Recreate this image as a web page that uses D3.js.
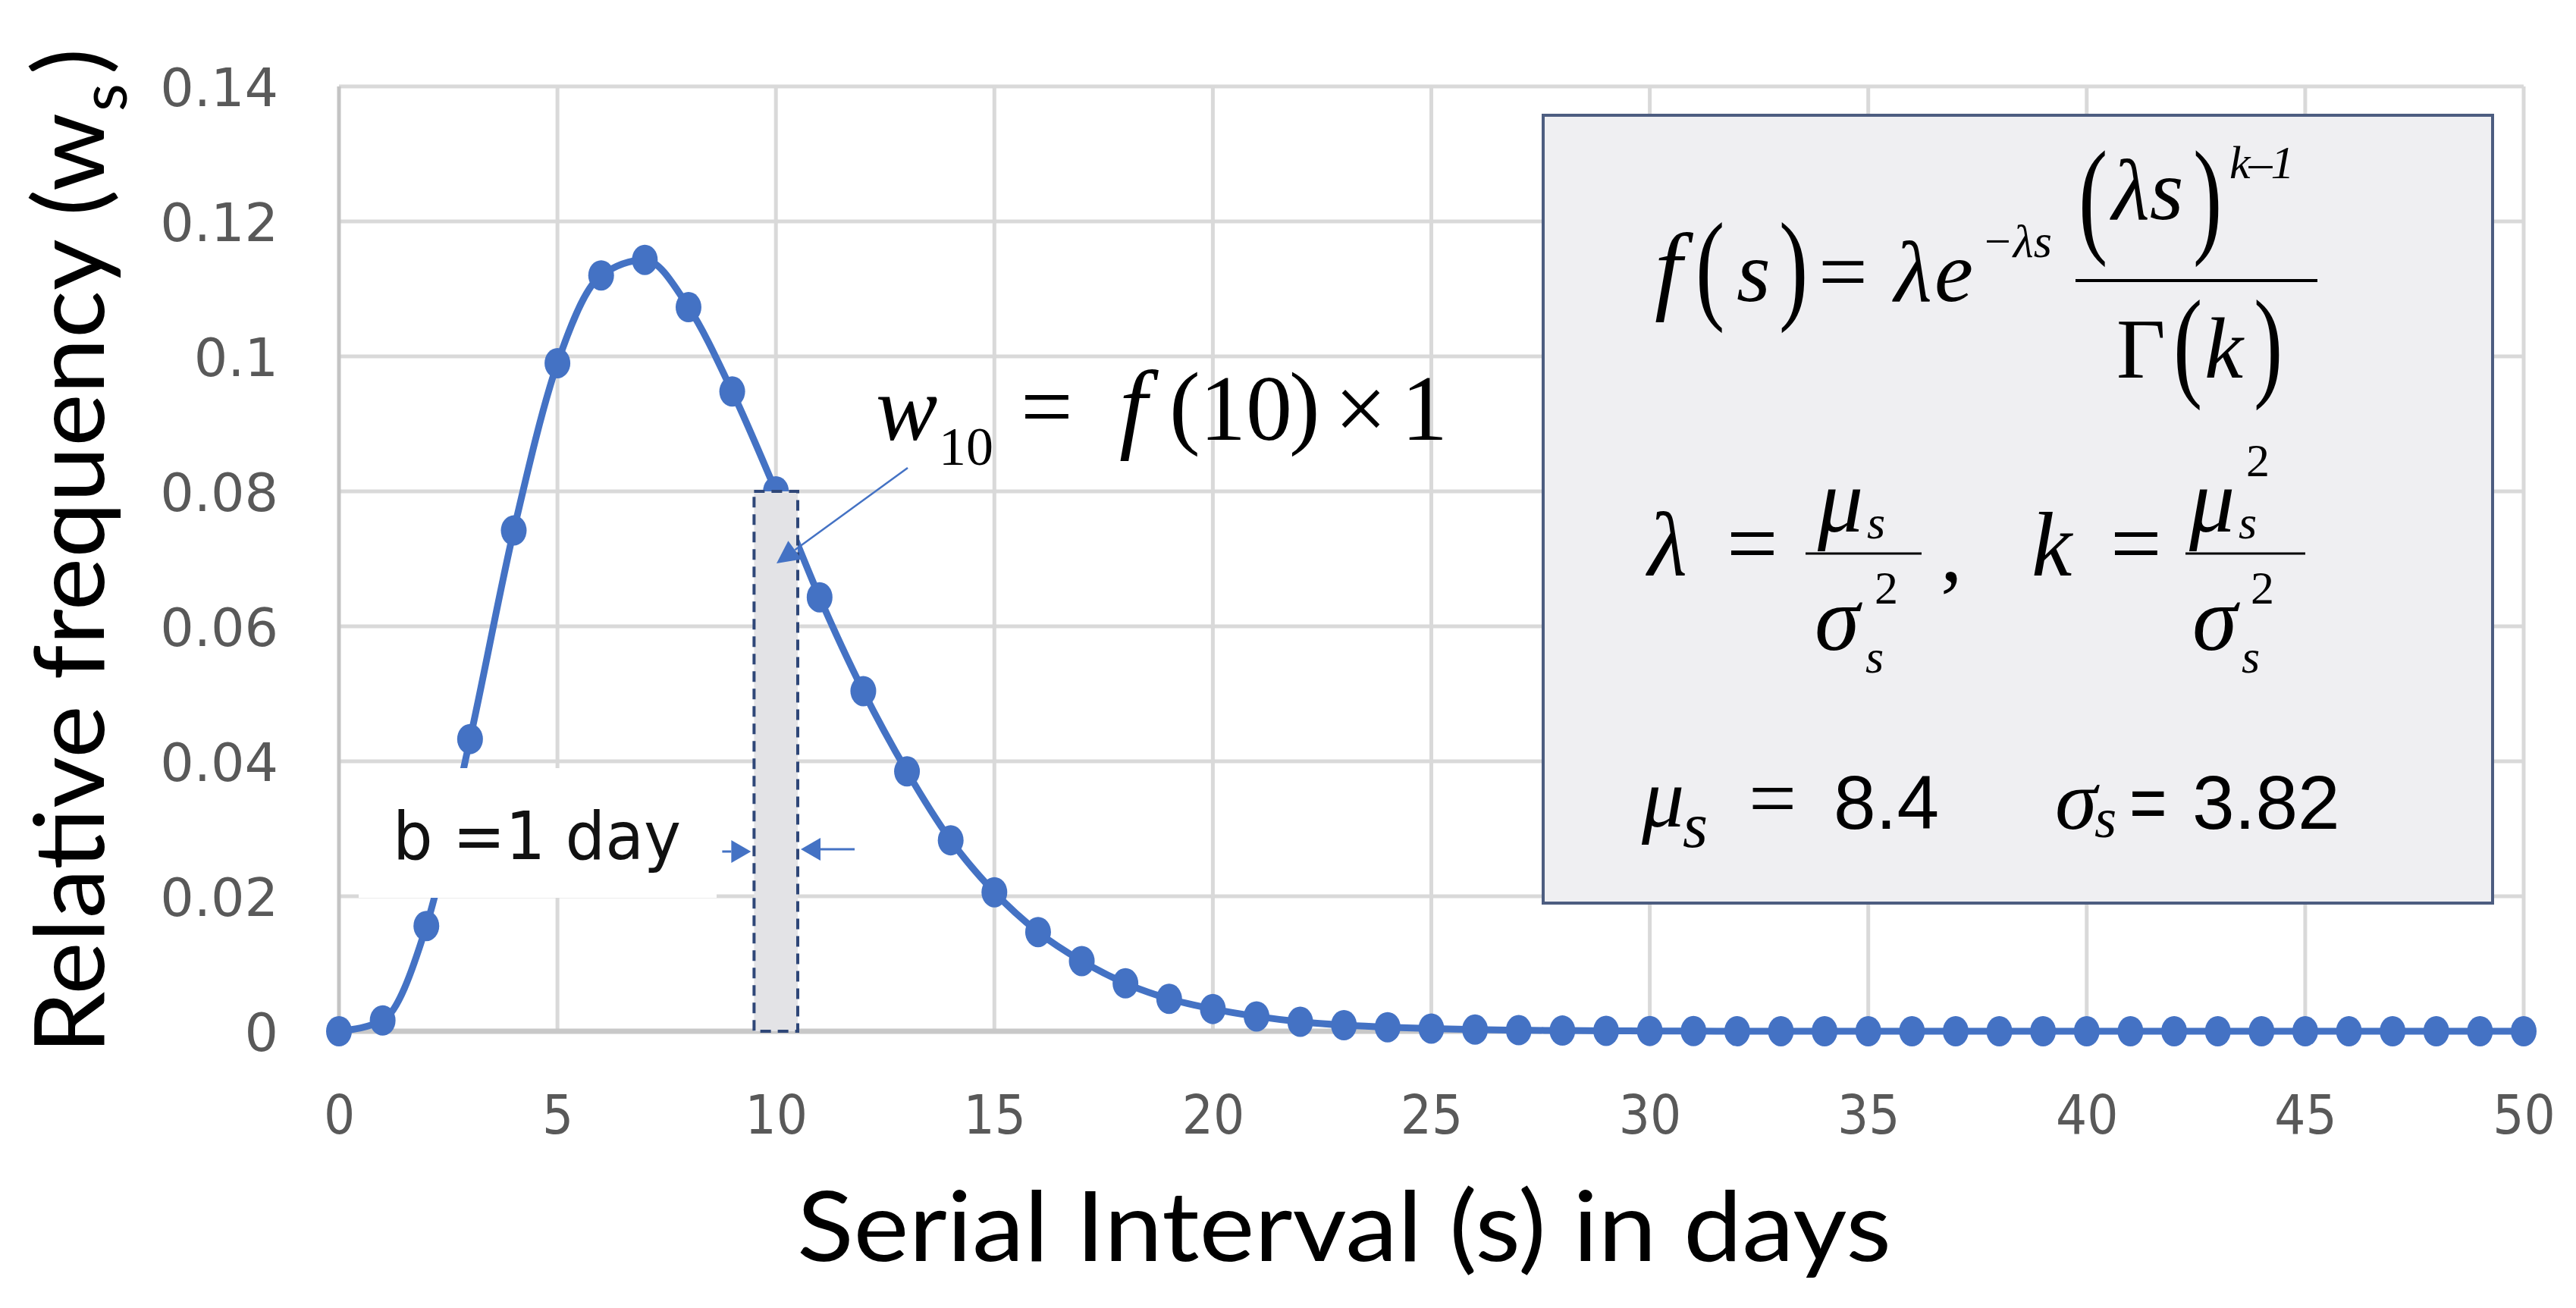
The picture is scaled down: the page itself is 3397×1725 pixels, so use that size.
<!DOCTYPE html>
<html><head><meta charset="utf-8">
<script src="https://cdn.jsdelivr.net/npm/d3@7"></script>
<style>html,body{margin:0;padding:0;background:#fff;}svg{display:block;}</style>
</head><body>
<script>
// ---------- data ----------
const days = [0,1,2,3,4,5,6,7,8,9,10,11,12,13,14,15,16,17,18,19,20,21,22,23,24,25,26,27,28,29,30,31,32,33,34,35,36,37,38,39,40,41,42,43,44,45,46,47,48,49,50];
const relFreq = [0,0.0016,0.0156,0.0433,0.0742,0.0990,0.1120,0.1143,0.1073,0.0948,0.0800,0.0643,0.0504,0.0385,0.0283,0.0206,0.0147,0.0104,0.0071,0.0048,0.0033,0.0022,0.0014,0.0009,0.0006,0.0004,0.00025,0.00016,0.0001,0.00006,0.00004,0.00002,0.00001,0.00001,0,0,0,0,0,0,0,0,0,0,0,0,0,0,0,0,0];
const xTicks = [0,5,10,15,20,25,30,35,40,45,50];
const yTicks = [0,0.02,0.04,0.06,0.08,0.1,0.12,0.14];
const yTickLabels = ["0","0.02","0.04","0.06","0.08","0.1","0.12","0.14"];
const highlightDay = 10, binWidth = 1, highlightValue = 0.08;

const W = 3397, H = 1725;
const svg = d3.select("body").append("svg").attr("width", W).attr("height", H);
const x = d3.scaleLinear().domain([0,50]).range([447,3328]);
const y = d3.scaleLinear().domain([0,0.14]).range([1360,114]);
const blue = "#4472C4";

// gridlines
const grid = svg.append("g");
grid.selectAll("line.h").data(yTicks.filter(d=>d>0)).enter().append("line")
  .attr("x1", x(0)).attr("x2", x(50)).attr("y1", d=>y(d)).attr("y2", d=>y(d))
  .attr("stroke", "#d9d9d9").attr("stroke-width", 5);
grid.selectAll("line.v").data(xTicks).enter().append("line")
  .attr("x1", d=>x(d)).attr("x2", d=>x(d)).attr("y1", y(0.14)).attr("y2", y(0))
  .attr("stroke", d=> d===0 ? "#c4c4c4" : "#d9d9d9").attr("stroke-width", 5);
grid.append("line").attr("x1", x(0)).attr("x2", x(50)).attr("y1", y(0)).attr("y2", y(0))
  .attr("stroke", "#c8c8c8").attr("stroke-width", 7);

// axes
const xAxis = svg.append("g").attr("transform", `translate(0,${y(0)})`)
  .call(d3.axisBottom(x).tickValues(xTicks).tickSize(0).tickFormat(d3.format("d")));
xAxis.select(".domain").remove();
xAxis.selectAll("text").attr("y", 135).attr("dy", 0)
  .attr("font-family", "DejaVu Sans").attr("font-size", 72).attr("fill", "#595959")
  .attr("transform", "scale(0.9,1)");

const yAxis = svg.append("g").attr("transform", `translate(${x(0)},0)`)
  .call(d3.axisLeft(y).tickValues(yTicks).tickSize(0).tickFormat((d,i)=>yTickLabels[i]));
yAxis.select(".domain").remove();
yAxis.selectAll("text").attr("x", -80).attr("dy", "0.36em")
  .attr("font-family", "DejaVu Sans").attr("font-size", 70).attr("fill", "#595959");

// series
const pts = days.map((d,i)=>({s:d, v:relFreq[i]}));
svg.append("path").datum(pts)
  .attr("d", d3.line().x(d=>x(d.s)).y(d=>y(d.v)).curve(d3.curveMonotoneX))
  .attr("fill", "none").attr("stroke", blue).attr("stroke-width", 9);
svg.append("g").selectAll("ellipse").data(pts).enter().append("ellipse")
  .attr("cx", d=>x(d.s)).attr("cy", d=>y(d.v)).attr("rx", 17).attr("ry", 20)
  .attr("fill", blue);

// axis titles
svg.append("text").attr("x", 1051).attr("y", 1663)
  .attr("font-family", "Lato").attr("font-size", 128).attr("fill", "#000")
  .attr("textLength", 1443).attr("lengthAdjust", "spacingAndGlyphs")
  .text("Serial Interval (s) in days");
const yt = svg.append("g").attr("transform", "translate(137,1390) rotate(-90)");
yt.append("text").attr("x", 0).attr("y", 0)
  .attr("font-family", "Lato").attr("font-size", 128).attr("fill", "#000")
  .attr("textLength", 1241).attr("lengthAdjust", "spacingAndGlyphs")
  .text("Relative frequency (w");
yt.append("text").attr("x", 1243).attr("y", 30)
  .attr("font-family", "Lato").attr("font-size", 85).attr("fill", "#000").text("s");
yt.append("text").attr("x", 1292).attr("y", 0)
  .attr("font-family", "Lato").attr("font-size", 128).attr("fill", "#000").text(")");

// "b = 1 day" label box
svg.append("rect").attr("x", 473).attr("y", 1013).attr("width", 472).attr("height", 171).attr("fill", "#fff");
svg.append("text").attr("x", 518).attr("y", 1133)
  .attr("font-family", "DejaVu Sans").attr("font-size", 88).attr("fill", "#111")
  .attr("textLength", 380).attr("lengthAdjust", "spacingAndGlyphs").text("b =1 day");

// highlighted bin
svg.append("rect")
  .attr("x", x(highlightDay - binWidth/2)).attr("y", y(highlightValue))
  .attr("width", x(highlightDay + binWidth/2) - x(highlightDay - binWidth/2))
  .attr("height", y(0) - y(highlightValue))
  .attr("fill", "#e3e3e6").attr("stroke", "#2f4778").attr("stroke-width", 4)
  .attr("stroke-dasharray", "14,9");

// arrows
function arrow(x1,y1,x2,y2,w,hl,hw){
  const ang = Math.atan2(y2-y1, x2-x1);
  const bx = x2 - hl*Math.cos(ang), by = y2 - hl*Math.sin(ang);
  svg.append("line").attr("x1", x1).attr("y1", y1).attr("x2", bx).attr("y2", by)
    .attr("stroke", blue).attr("stroke-width", w);
  const px = -Math.sin(ang)*hw/2, py = Math.cos(ang)*hw/2;
  svg.append("path").attr("d", `M${x2},${y2} L${bx+px},${by+py} L${bx-px},${by-py} Z`).attr("fill", blue);
}
const bL = x(highlightDay - binWidth/2), bR = x(highlightDay + binWidth/2);
arrow(bL - 42, 1123, bL - 4, 1123, 3, 26, 30);
arrow(bR + 75, 1120, bR + 4, 1120, 3, 26, 30);
arrow(1197, 617, 1024, 743, 2.5, 30, 30);

// text helper for annotations
function t(px, py, str, o={}) {
  return svg.append("text")
    .attr("transform", `translate(${px},${py}) scale(${o.sx||1},${o.sy||1})`)
    .attr("font-family", o.fam || "Liberation Serif").attr("font-size", o.size || 115)
    .attr("font-style", o.it ? "italic" : "normal").attr("fill", o.fill || "#000")
    .attr("letter-spacing", o.ls || 0)
    .attr("text-anchor", o.anchor || "start").text(str);
}
// w10 annotation
t(1155, 580, "w", {it:true, size:122});
t(1238, 613, "10", {size:72});
t(1346, 577, "=", {size:122});
t(1476, 580, "f", {it:true, size:132});
t(1542, 576, "(", {size:122});
t(1582, 580, "10", {size:122});
t(1700, 576, ")", {size:122});
t(1760, 580, "×", {size:122});
t(1848, 580, "1", {size:122});

// formula box
svg.append("rect").attr("x", 2035).attr("y", 152).attr("width", 1252).attr("height", 1039)
  .attr("fill", "#efeff2").attr("stroke", "#4d5d80").attr("stroke-width", 4);
// line 1
t(2182, 397, "f", {it:true, size:130});
t(2236, 405, "(", {sy:1.4});
t(2290, 397, "s", {it:true});
t(2346, 405, ")", {sy:1.4});
t(2398, 397, "=");
t(2498, 397, "λ", {it:true});
t(2551, 397, "e", {it:true});
t(2613, 339, "−λs", {it:true, size:62});
t(2741, 316, "(", {sy:1.47});
t(2785, 289, "λs", {it:true});
t(2892, 316, ")", {sy:1.47});
t(2940, 235, "k–1", {it:true, size:62, ls:-2});
svg.append("line").attr("x1", 2737).attr("x2", 3056).attr("y1", 370).attr("y2", 370).attr("stroke", "#000").attr("stroke-width", 4);
t(2791, 498, "Γ", {size:112});
t(2866, 507, "(", {sy:1.4});
t(2907, 498, "k", {it:true});
t(2972, 507, ")", {sy:1.4});
// line 2
t(2173, 759, "λ", {it:true, size:120});
t(2277, 757, "=", {size:120});
t(2397, 701, "μ", {it:true, size:120});
t(2462, 710, "s", {it:true, size:62});
svg.append("line").attr("x1", 2381).attr("x2", 2534).attr("y1", 730).attr("y2", 730).attr("stroke", "#000").attr("stroke-width", 3);
t(2393, 857, "σ", {it:true, size:120});
t(2472, 796, "2", {size:62});
t(2460, 887, "s", {it:true, size:62});
t(2559, 766, ",", {size:115});
t(2679, 759, "k", {it:true, size:120});
t(2783, 757, "=", {size:120});
t(2887, 701, "μ", {it:true, size:120});
t(2962, 628, "2", {size:62});
t(2952, 710, "s", {it:true, size:62});
svg.append("line").attr("x1", 2882).attr("x2", 3040).attr("y1", 730).attr("y2", 730).attr("stroke", "#000").attr("stroke-width", 3);
t(2891, 857, "σ", {it:true, size:120});
t(2968, 796, "2", {size:62});
t(2956, 887, "s", {it:true, size:62});
// line 3
t(2165, 1090, "μ", {it:true, size:112});
t(2219, 1117, "s", {it:true, size:85});
t(2306, 1090, "=", {size:112});
t(2418, 1093, "8.4", {fam:"Liberation Sans", size:100});
t(2710, 1093, "σ", {it:true, size:112});
t(2762, 1104, "s", {it:true, size:75});
t(2808, 1093, "=", {fam:"Liberation Sans", size:100, sx:0.85});
t(2891, 1093, "3.82", {fam:"Liberation Sans", size:100});
</script>
</body></html>
